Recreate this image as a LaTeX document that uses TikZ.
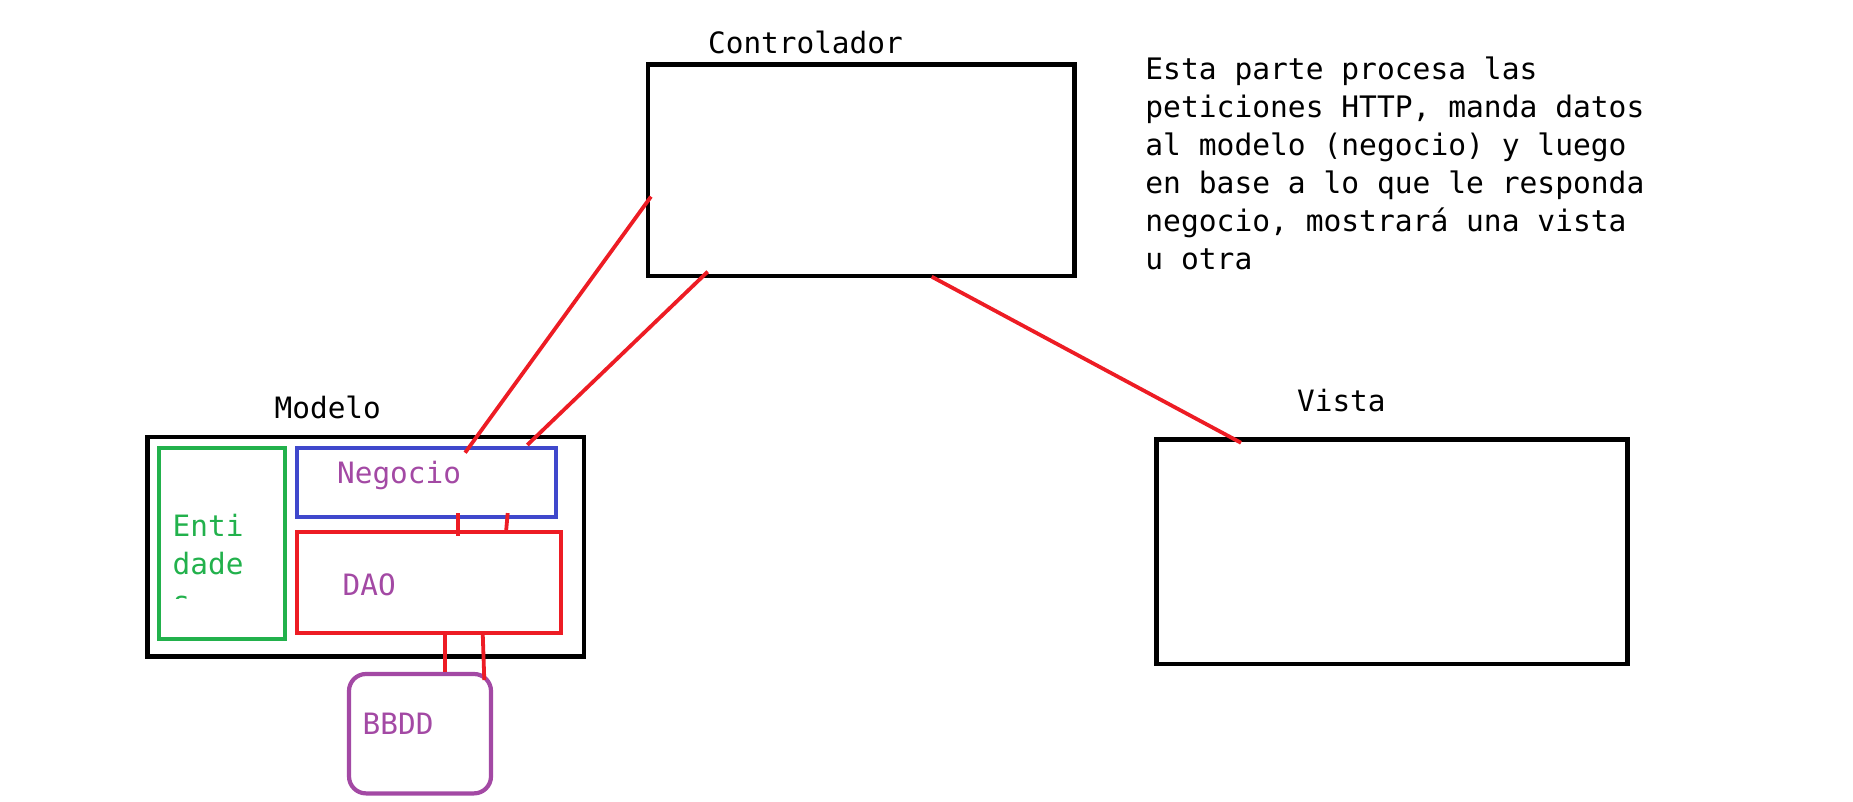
\documentclass[tikz,border=0pt]{standalone}
\usepackage{fontspec}
\newfontfamily\monofont{DejaVu Sans Mono}
\definecolor{pgreen}{RGB}{34,177,76}
\definecolor{pblue}{RGB}{63,72,204}
\definecolor{pred}{RGB}{237,28,36}
\definecolor{ppurple}{RGB}{163,73,164}
\begin{document}
\begin{tikzpicture}[x=0.5pt,y=-0.5pt,
  box/.style={draw=black,line width=2.3pt,rectangle,inner sep=0pt,outer sep=0pt},
  cbox/.style={rectangle,line width=2.1pt,inner sep=0pt,outer sep=0pt},
  link/.style={draw=pred,line width=1.9pt},
  lbl/.style={anchor=base west,inner sep=0pt,font=\monofont\fontsize{14.7pt}{17pt}\selectfont},
  para/.style={anchor=base west,inner sep=0pt,font=\monofont\fontsize{14.8pt}{19.05pt}\selectfont}]
\useasboundingbox (0,0) rectangle (1853,802);
% boxes
\node[box,minimum width=213.2pt,minimum height=105.7pt] (ctrl) at (861.2,170.3) {};
\node[box,minimum width=235.3pt,minimum height=112.3pt] (vista) at (1392,551.7) {};
\node[box,minimum width=218.2pt,minimum height=109.8pt] (modelo) at (365.9,546.9) {};
\node[cbox,draw=pgreen,minimum width=63pt,minimum height=95.5pt] (entidad) at (221.7,543.2) {};
\node[cbox,draw=pblue,minimum width=129.5pt,minimum height=34.7pt] (negocio) at (426.2,482.4) {};
\node[cbox,draw=pred,minimum width=132pt,minimum height=50.2pt] (dao) at (428.7,582.5) {};
\node[cbox,draw=ppurple,rounded corners=8.5pt,minimum width=71pt,minimum height=59.7pt] (bbdd) at (420,733.7) {};
% labels
\node[lbl] (tctrl) at (707.7,53.3) {Controlador};
\node[lbl] (tmodelo) at (274.3,418) {Modelo};
\node[lbl] (tvista) at (1296.7,411.7) {Vista};
\node[lbl,text=ppurple] (tnegocio) at (336.7,483.3) {Negocio};
\node[lbl,text=pgreen] (tenti) at (172.3,536.7) {Enti};
\node[lbl,text=pgreen] (tdade) at (172.3,574.3) {dade};
\begin{scope}
\clip (160,585) rectangle (200,598);
\node[lbl,text=pgreen] (ts) at (172.3,612) {s};
\end{scope}
\node[lbl,text=ppurple] (tdao) at (342.3,595) {DAO};
\node[lbl,text=ppurple] (tbbdd) at (362.3,734) {BBDD};
\node[para] (desc) at (1145,79.3) {\vtop{\baselineskip=19.05pt
\hbox{Esta parte procesa las}
\hbox{peticiones HTTP, manda datos}
\hbox{al modelo (negocio) y luego}
\hbox{en base a lo que le responda}
\hbox{negocio, mostrará una vista}
\hbox{u otra}}};
% connectors
\draw[link] ([xshift=84.2pt,yshift=-2.5pt]negocio.north west) -- ([xshift=1.5pt,yshift=-66pt]ctrl.north west);
\draw[link] ([xshift=115.3pt,yshift=1.35pt]negocio.north west) -- ([xshift=29.85pt,yshift=2.15pt]ctrl.south west);
\draw[link] ([xshift=141.85pt,yshift=-0.35pt]ctrl.south west) -- ([xshift=42.15pt,yshift=-1.7pt]vista.north west);
\draw[link] ([xshift=80.8pt,yshift=2pt]negocio.south west) -- ([xshift=80.8pt,yshift=-1.7pt]dao.north west);
\draw[link] ([xshift=105.5pt,yshift=2pt]negocio.south west) -- ([xshift=104.65pt]dao.north west);
\draw[link] ([xshift=74.3pt]dao.south west) -- ([xshift=48.15pt,yshift=1pt]bbdd.north west);
\draw[link] ([xshift=93pt]dao.south west) -- ([xshift=67.65pt,yshift=-3pt]bbdd.north west);
\end{tikzpicture}
\end{document}
